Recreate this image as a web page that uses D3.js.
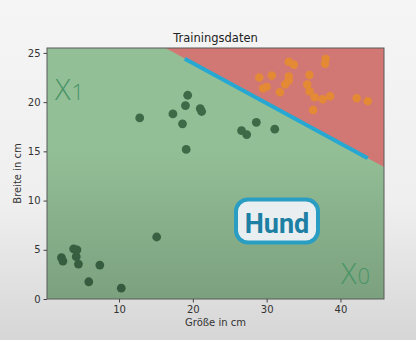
<!DOCTYPE html>
<html><head><meta charset="utf-8">
<script src="https://cdn.jsdelivr.net/npm/d3@7"></script>
<style>html,body{margin:0;padding:0;background:#f3f3f3;}svg{display:block;}</style>
</head><body>
<script>
// ---- data ----
const dogX = [12.8,19.3,19.0,17.3,18.6,19.1,21.0,21.2,26.6,27.3,28.6,31.1,2.2,2.4,3.85,4.3,4.2,4.5,7.4,5.9,10.3,15.1];
const dogY = [18.4,20.7,19.65,18.8,17.8,15.2,19.35,19.05,17.1,16.7,17.95,17.25,4.2,3.85,5.1,5.0,4.3,3.55,3.45,1.75,1.1,6.3];
const otherX = [29.0,30.7,29.5,30.0,33.0,33.7,33.0,33.0,32.5,31.8,38.0,37.9,35.8,35.5,35.8,36.5,37.6,38.6,36.3,42.2,43.7];
const otherY = [22.5,22.7,21.4,21.55,24.1,23.8,22.6,22.2,21.8,21.0,24.4,23.9,22.75,21.8,21.1,20.5,20.3,20.6,19.2,20.4,20.1];
const boundaryX = [16.3, 45.9];
const boundaryY = [25.5, 13.4];
const lineX = [18.9, 43.7];
const lineY = [24.4, 14.3];
const xTicks = [10,20,30,40];
const yTicks = [0,5,10,15,20,25];
const xDomain = [0.24, 45.9];
const yDomain = [0, 25.5];
const title = "Trainingsdaten";
const xLabel = "Größe in cm";
const yLabel = "Breite in cm";
const badge = "Hund";

const W = 416, H = 340;
const m = {l:47, r:384, t:48, b:299};
const svg = d3.select("body").append("svg").attr("width",W).attr("height",H);
const defs = svg.append("defs");
const bg = defs.append("linearGradient").attr("id","bgG").attr("x1",0).attr("y1",0).attr("x2",0).attr("y2",1);
bg.append("stop").attr("offset","0%").attr("stop-color","#f5f5f5");
bg.append("stop").attr("offset","60%").attr("stop-color","#efefef");
bg.append("stop").attr("offset","100%").attr("stop-color","#d6d6d6");
svg.append("rect").attr("width",W).attr("height",H).attr("fill","url(#bgG)");

const x = d3.scaleLinear().domain(xDomain).range([m.l, m.r]);
const y = d3.scaleLinear().domain(yDomain).range([m.b, m.t]);

const g = svg.append("g");
// green region
g.append("rect").attr("x",m.l).attr("y",m.t).attr("width",m.r-m.l).attr("height",m.b-m.t).attr("fill","#93bf96");
// red region above boundary
const poly = [[boundaryX[0],yDomain[1]],[xDomain[1],yDomain[1]],[boundaryX[1],boundaryY[1]]];
g.append("path").attr("d", d3.line().x(d=>x(d[0])).y(d=>y(d[1]))(poly)+"Z").attr("fill","#d27874");

// points
g.selectAll("circle.dog").data(dogX.map((v,i)=>[v,dogY[i]])).join("circle")
  .attr("cx",d=>x(d[0])).attr("cy",d=>y(d[1])).attr("r",4.4).attr("fill","#3e6a48");
g.selectAll("circle.oth").data(otherX.map((v,i)=>[v,otherY[i]])).join("circle")
  .attr("cx",d=>x(d[0])).attr("cy",d=>y(d[1])).attr("r",4.2).attr("fill","#e48a35");

// blue separating line
g.append("path").attr("d", d3.line().x(d=>x(d[0])).y(d=>y(d[1]))(lineX.map((v,i)=>[v,lineY[i]])))
  .attr("stroke","#27a8d2").attr("stroke-width",4).attr("fill","none");

// vignette over plot
const vg = defs.append("linearGradient").attr("id","vG").attr("x1",0).attr("y1",0).attr("x2",0).attr("y2",1);
vg.append("stop").attr("offset","0%").attr("stop-color","#000").attr("stop-opacity",0);
vg.append("stop").attr("offset","40%").attr("stop-color","#000").attr("stop-opacity",0);
vg.append("stop").attr("offset","100%").attr("stop-color","#000").attr("stop-opacity",0.16);
g.append("rect").attr("x",m.l).attr("y",m.t).attr("width",m.r-m.l).attr("height",m.b-m.t).attr("fill","url(#vG)");

// frame
svg.append("rect").attr("x",m.l).attr("y",m.t).attr("width",m.r-m.l).attr("height",m.b-m.t)
  .attr("fill","none").attr("stroke","#5a5a5a").attr("stroke-width",1);

// axes
const fontF = "DejaVu Sans, sans-serif";
const xa = svg.append("g").attr("transform",`translate(0,${m.b})`)
  .call(d3.axisBottom(x).tickValues(xTicks).tickSize(3.5).tickPadding(3));
const ya = svg.append("g").attr("transform",`translate(${m.l},0)`)
  .call(d3.axisLeft(y).tickValues(yTicks).tickSize(3.5).tickPadding(3));
[xa,ya].forEach(a=>{
  a.select(".domain").remove();
  a.selectAll("line").attr("stroke","#444");
  a.selectAll("text").attr("fill","#333").style("font-family",fontF).style("font-size","10px");
});

svg.append("text").attr("x",(m.l+m.r)/2).attr("y",42).attr("text-anchor","middle")
  .style("font-family",fontF).style("font-size","11.5px").attr("fill","#222").text(title);
svg.append("text").attr("x",(m.l+m.r)/2).attr("y",326).attr("text-anchor","middle")
  .style("font-family",fontF).style("font-size","10px").attr("fill","#333").text(xLabel);
svg.append("text").attr("transform",`translate(21,${(m.t+m.b)/2}) rotate(-90)`).attr("text-anchor","middle")
  .style("font-family",fontF).style("font-size","10px").attr("fill","#333").text(yLabel);

// X1 / X0 annotations
function sub(xp, yp, s){
  const t = svg.append("text").attr("x",xp).attr("y",yp).attr("fill","#4a9468")
    .style("font-family","Open Sans, sans-serif").style("font-weight","300");
  t.append("tspan").style("font-size","29px").text("X");
  t.append("tspan").style("font-size","22px").attr("dx",1).text(s);
}
sub(55,100,"1");
sub(341,284,"0");

// Hund badge
svg.append("rect").attr("x",236).attr("y",199.5).attr("width",82).attr("height",43).attr("rx",12)
  .attr("fill","#e9eff1").attr("stroke","#2a9dc2").attr("stroke-width",4);
svg.append("text").attr("x",277).attr("y",232.5).attr("text-anchor","middle").attr("fill","#1c7fa3")
  .style("font-family","Roboto, sans-serif").style("font-weight","bold").style("font-size","27px").text(badge);
</script>
</body></html>
